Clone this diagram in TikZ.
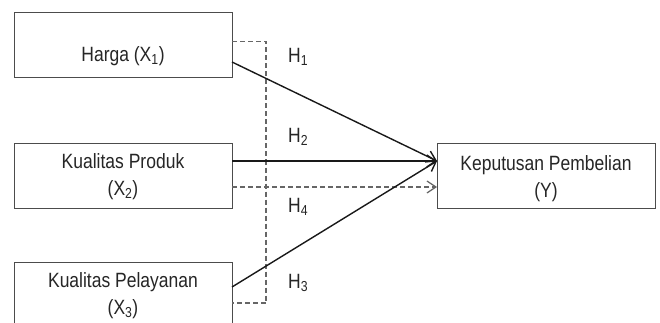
\documentclass[tikz,border=0pt]{standalone}
\usepackage{fontspec}
\setmainfont{Liberation Sans}
\usetikzlibrary{arrows.meta}
\newcommand{\tallt}[1]{\scalebox{1}[1.18]{#1}}
\begin{document}
\begin{tikzpicture}[x=1pt,y=-1pt,
  boxst/.style={draw=black!70, line width=1.2pt, minimum width=218pt, minimum height=65pt, anchor=north west, inner sep=0pt},
  txt/.style={font=\fontsize{17.5}{27}\selectfont, text=black!85, inner sep=0pt, align=center},
  hlab/.style={font=\fontsize{17.5}{20}\selectfont, text=black!85, inner sep=0pt, anchor=west},
  arr/.style={line width=1.4pt, draw=black!90, -{Straight Barb[length=9pt,width=12pt]}},
  dsh/.style={draw=black!60, line width=1.2pt, dash pattern=on 5pt off 3pt},
  darr/.style={dsh, -{Straight Barb[length=9pt,width=12pt]}}]
\useasboundingbox (0,0) rectangle (660,323);
\clip (0,0) rectangle (660,323);
\fill[white] (0,0) rectangle (660,323);
% boxes
\node[boxst] (b1) at (14,12) {};
\node[boxst] (b2) at (14,143) {};
\node[boxst, minimum height=80pt] (b3) at (14,262) {};
\node[boxst] (by) at (437,143) {};
% texts
\node[txt] (t1) at (123,56) {\tallt{Harga (X\textsubscript{1})}};
\node[txt] (t2) at (123,177) {\tallt{Kualitas Produk}\\\tallt{(X\textsubscript{2})}};
\node[txt] (t3) at (123,296) {\tallt{Kualitas Pelayanan}\\\tallt{(X\textsubscript{3})}};
\node[txt] (ty) at (546,179) {\tallt{Keputusan Pembelian}\\\tallt{(Y)}};
% hypothesis labels
\node[hlab] (h1) at (288,57) {\tallt{H\textsubscript{1}}};
\node[hlab] (h2) at (288,137) {\tallt{H\textsubscript{2}}};
\node[hlab] (h4) at (288,207) {\tallt{H\textsubscript{4}}};
\node[hlab] (h3) at (288,283) {\tallt{H\textsubscript{3}}};
% connector points
\coordinate (s1) at (232,62);
\coordinate (s2) at (232,161);
\coordinate (s3) at (232,287);
\coordinate (e) at (437,161);
\coordinate (d2) at (232,187);
\coordinate (de) at (437,187);
\coordinate (d1) at (232,41.5);
\coordinate (v1) at (266,41.5);
\coordinate (v3) at (266,303);
\coordinate (d3) at (232,303);
% dashed
\draw[dsh] (d1) -- (v1) -- (v3) -- (d3);
\draw[darr] (d2) -- (de);
% solid arrows
\draw[arr] (s1) -- (e);
\draw[arr] (s2) -- (e);
\draw[arr] (s3) -- (e);
\end{tikzpicture}
\end{document}
